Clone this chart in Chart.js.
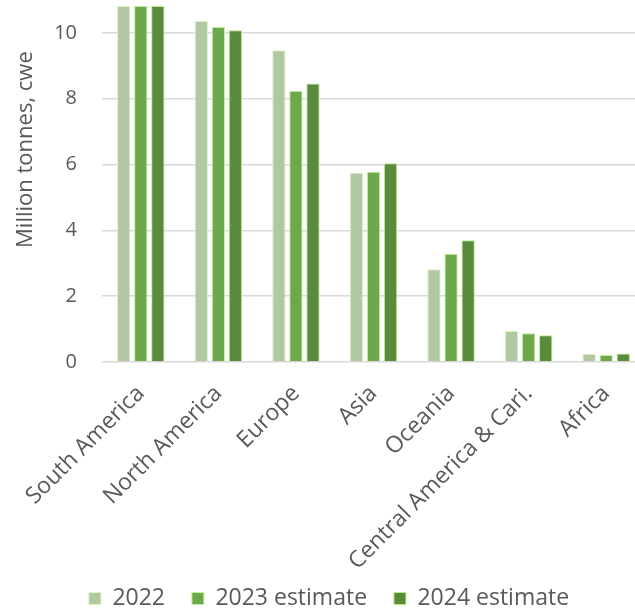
<!DOCTYPE html>
<html lang="en">
<head>
    <meta charset="utf-8"/>
    <title>Production by region</title>
    <style>
        html, body {
            margin: 0;
            padding: 0;
            background: #ffffff;
            overflow: hidden;
        }
        .chart-box {
            width: 712px;
            height: 610px;
        }
    </style>
</head>
<body>
    <div class="chart-box">
        <canvas id="chart"></canvas>
    </div>
    <script src="https://cdn.jsdelivr.net/npm/chart.js@4.4.1/dist/chart.umd.min.js"></script>
    <script>
        const regions = ["South America", "North America", "Europe", "Asia", "Oceania", "Central America & Cari.", "Africa"];
        const values2022 = [10.82, 10.36, 9.47, 5.75, 2.82, 0.94, 0.25];
        const values2023 = [10.82, 10.18, 8.24, 5.78, 3.29, 0.87, 0.21];
        const values2024 = [10.82, 10.08, 8.46, 6.04, 3.70, 0.81, 0.26];
        const yTicks = [0, 2, 4, 6, 8, 10];

        const grey = "#595959";
        const font = "'Open Sans', sans-serif";

        const context = document.getElementById("chart").getContext("2d");
        const chart = new Chart(context, {
            type: "bar",
            data: {
                labels: regions,
                datasets: [
                    {
                        label: "2022",
                        data: values2022,
                        backgroundColor: "#b2c7a4",
                        borderColor: "#d6f7b8",
                        borderWidth: 1
                    },
                    {
                        label: "2023 estimate",
                        data: values2023,
                        backgroundColor: "#6ea84c",
                        borderColor: "#c4f29c",
                        borderWidth: 1
                    },
                    {
                        label: "2024 estimate",
                        data: values2024,
                        backgroundColor: "#5a8a3b",
                        borderColor: "#b8ec8c",
                        borderWidth: 1
                    }
                ]
            },
            options: {
                responsive: true,
                maintainAspectRatio: false,
                animation: false,
                layout: {
                    padding: { left: 13, right: 67, top: 0, bottom: -10 }
                },
                datasets: {
                    bar: {
                        categoryPercentage: 0.66,
                        barPercentage: 0.78
                    }
                },
                scales: {
                    x: {
                        grid: { display: false },
                        border: { display: false },
                        ticks: {
                            color: grey,
                            font: { family: font, size: 23 },
                            minRotation: 45,
                            maxRotation: 45,
                            autoSkip: false,
                            padding: 10
                        },
                        afterFit: function (scale) {
                            // labels may hang out to the left, like in the original
                            scale.paddingLeft = 0;
                            scale.height = 222;
                        }
                    },
                    y: {
                        min: 0,
                        max: 11,
                        afterBuildTicks: function (axis) {
                            axis.ticks = yTicks.map(function (v) { return { value: v }; });
                        },
                        afterFit: function (scale) {
                            // plot runs up to the top edge of the picture
                            scale.paddingTop = 0;
                            scale.paddingBottom = 0;
                            scale.width = 89;
                        },
                        grid: {
                            color: "#d9d9d9",
                            lineWidth: 1.5,
                            drawTicks: false
                        },
                        border: { display: false },
                        ticks: {
                            color: grey,
                            font: { family: font, size: 20 },
                            padding: 25
                        },
                        title: {
                            display: true,
                            // leading spaces lift the title a bit above the middle, as in the original
                            text: "\u00a0".repeat(11) + "Million tonnes, cwe",
                            color: grey,
                            font: { family: font, size: 22 },
                            padding: { top: 0, bottom: 12 }
                        }
                    }
                },
                plugins: {
                    legend: {
                        position: "bottom",
                        labels: {
                            color: grey,
                            font: { family: font, size: 23 },
                            boxWidth: 12,
                            boxHeight: 12,
                            padding: 3,
                            generateLabels: function (c) {
                                const items = Chart.defaults.plugins.legend.labels.generateLabels(c);
                                items.forEach(function (item, i) {
                                    if (i < items.length - 1) item.text = item.text + "    ";
                                });
                                return items;
                            }
                        }
                    },
                    tooltip: { enabled: false }
                }
            }
        });
    </script>
</body>
</html>
